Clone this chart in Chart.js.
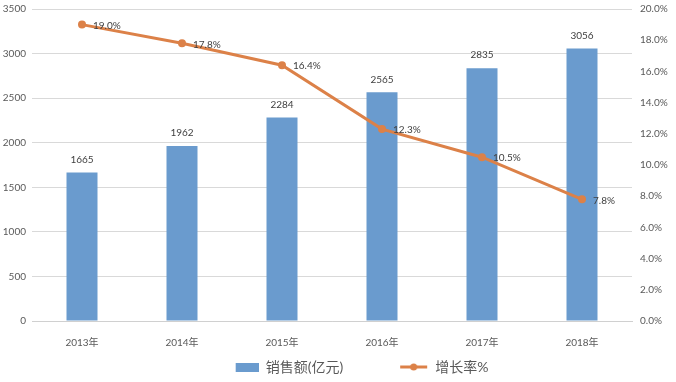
<!DOCTYPE html>
<html>
<head>
<meta charset="utf-8">
<script src="https://cdn.jsdelivr.net/npm/chart.js@4"></script>
<style>
html,body{margin:0;padding:0;background:#fff;}
#wrap{width:676px;height:382px;}
</style>
</head>
<body>
<div id="wrap"><canvas id="c" width="676" height="382"></canvas></div>
<script>
const categories = ['2013年','2014年','2015年','2016年','2017年','2018年'];
const salesValues = [1665, 1962, 2284, 2565, 2835, 3056];
const growthValues = [19.0, 17.8, 16.4, 12.3, 10.5, 7.8];
const seriesNames = ['销售额(亿元)', '增长率%'];

const BAR = '#6A9BCE';
const LINE = '#DC8148';
const FONT = "Lato, 'Noto Sans CJK SC', sans-serif";
const ICON_W = 71;
const LEGEND_PAD = 14;

function makeBarIcon(){
  const c = document.createElement('canvas'); c.width = ICON_W; c.height = 10;
  const x = c.getContext('2d'); x.fillStyle = BAR; x.fillRect(ICON_W - 23, 1, 23, 9); return c;
}
function makeLineIcon(){
  const c = document.createElement('canvas'); c.width = ICON_W; c.height = 10;
  const x = c.getContext('2d'); x.strokeStyle = LINE; x.lineWidth = 3;
  x.beginPath(); x.moveTo(ICON_W - 28, 5); x.lineTo(ICON_W - 1, 5); x.stroke();
  x.fillStyle = LINE; x.beginPath(); x.arc(ICON_W - 14.5, 5, 3.5, 0, Math.PI*2); x.fill(); return c;
}
const icons = [makeBarIcon(), makeLineIcon()];

const labelPlugin = {
  id: 'valueLabels',
  beforeLayout(chart){
    const lg = chart.legend;
    if (lg && !lg._patchedFit) {
      const orig = lg.fit.bind(lg);
      lg.fit = function(){ orig(); this.height = 25; };
      lg._patchedFit = true;
    }
  },
  afterLayout(chart){
    if (chart.legend) { chart.legend.top += 3 - LEGEND_PAD; }
  },
  afterDatasetsDraw(chart){
    const ctx = chart.ctx;
    ctx.save();
    ctx.font = "10px " + FONT;
    ctx.fillStyle = '#404040';
    const barMeta = chart.getDatasetMeta(1);
    barMeta.data.forEach((el, i) => {
      ctx.textAlign = 'center'; ctx.textBaseline = 'middle';
      ctx.fillText(String(salesValues[i]), el.x, el.y - 13);
    });
    const lineMeta = chart.getDatasetMeta(0);
    lineMeta.data.forEach((el, i) => {
      ctx.textAlign = 'left'; ctx.textBaseline = 'middle';
      ctx.fillText(growthValues[i].toFixed(1) + '%', el.x + 11, el.y + 1);
    });
    ctx.restore();
  }
};

function noVPad(s){ s.paddingTop = 0; s.paddingBottom = 0; }

new Chart(document.getElementById('c'), {
  data: {
    labels: categories,
    datasets: [
      {
        type: 'line', label: seriesNames[1], data: growthValues, yAxisID: 'y1',
        borderColor: LINE, backgroundColor: LINE, borderWidth: 3,
        pointRadius: 4, pointBackgroundColor: LINE, pointBorderWidth: 0,
        tension: 0, order: 0
      },
      {
        type: 'bar', label: seriesNames[0], data: salesValues, yAxisID: 'y',
        backgroundColor: BAR, barPercentage: 0.31, categoryPercentage: 1.0, order: 1
      }
    ]
  },
  options: {
    responsive: false, animation: false,
    layout: { padding: { top: 9, left: 0, right: 0, bottom: 0 } },
    plugins: {
      tooltip: { enabled: false },
      legend: {
        position: 'bottom', reverse: true,
        labels: {
          usePointStyle: true, pointStyleWidth: ICON_W, padding: LEGEND_PAD,
          color: '#595959', font: { size: 14, family: FONT },
          generateLabels(chart){
            const items = Chart.defaults.plugins.legend.labels.generateLabels(chart);
            items.forEach(it => { it.pointStyle = icons[it.datasetIndex === 1 ? 0 : 1]; });
            return items;
          }
        }
      }
    },
    scales: {
      x: {
        grid: { display: false },
        border: { color: '#D0D0D0', width: 1 },
        ticks: { color: '#595959', font: { size: 10, family: FONT }, padding: 8, maxRotation: 0 },
        afterFit(s){ s.height = 36; }
      },
      y: {
        position: 'left', min: 0, max: 3500,
        ticks: { stepSize: 500, color: '#595959', font: { size: 10, family: FONT }, padding: 6,
                 callback: v => String(v) },
        grid: { color: '#D9D9D9', drawTicks: false },
        border: { display: false },
        afterFit(s){ s.width = 32; noVPad(s); }
      },
      y1: {
        position: 'right', min: 0, max: 20,
        ticks: { stepSize: 2, color: '#595959', font: { size: 10, family: FONT }, padding: 8,
                 callback: v => v.toFixed(1) + '%' },
        grid: { display: false, drawTicks: false },
        border: { display: false },
        afterFit(s){ s.width = 44; noVPad(s); }
      }
    }
  },
  plugins: [labelPlugin]
});
</script>
</body>
</html>
